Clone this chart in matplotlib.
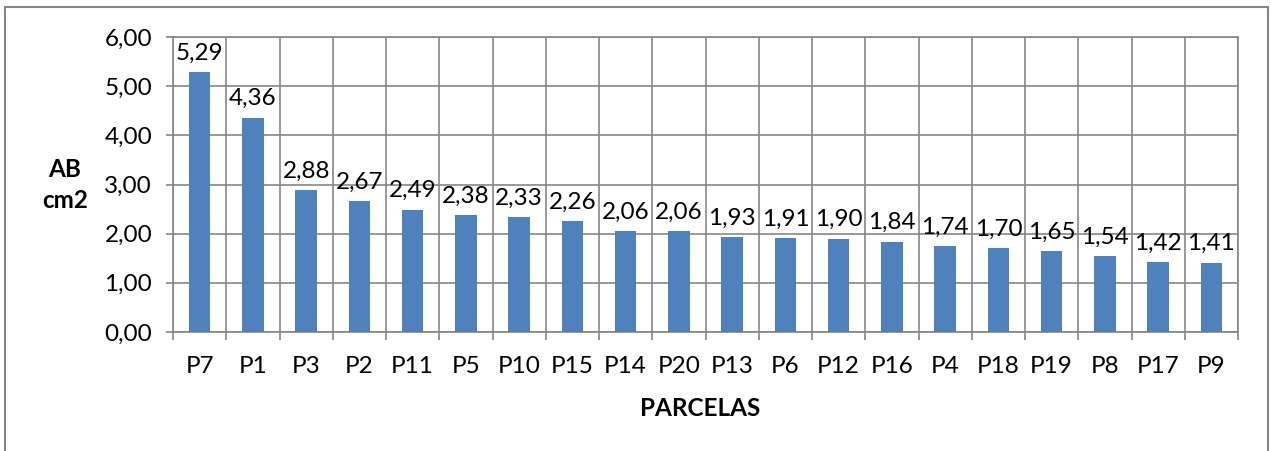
import matplotlib.pyplot as plt
from matplotlib.patches import Rectangle
import numpy as np

parcelas = ["P7", "P1", "P3", "P2", "P11", "P5", "P10", "P15", "P14", "P20",
            "P13", "P6", "P12", "P16", "P4", "P18", "P19", "P8", "P17", "P9"]
ab_cm2 = [5.29, 4.36, 2.88, 2.67, 2.49, 2.38, 2.33, 2.26, 2.06, 2.06,
          1.93, 1.91, 1.90, 1.84, 1.74, 1.70, 1.65, 1.54, 1.42, 1.41]
y_ticks = [0, 1, 2, 3, 4, 5, 6]

plt.rcParams['font.family'] = ['Lato', 'DejaVu Sans']
grid_col = "#868686"
fs = 17.5

fig = plt.figure(figsize=(12.71, 4.51), dpi=100)
ax = fig.add_axes([173 / 1271, 1 - 332 / 451, (1238 - 173) / 1271, (332 - 37) / 451])

x = np.arange(len(parcelas))
ax.bar(x, ab_cm2, width=0.4, color="#4F81BD", zorder=3)

for xi, v in zip(x, ab_cm2):
    ax.annotate(f"{v:.2f}".replace(".", ","), (xi, v), xytext=(0, 6),
                textcoords="offset points", ha="center", va="bottom",
                fontsize=fs, zorder=4)

ax.set_xlim(-0.5, len(parcelas) - 0.5)
ax.set_ylim(0, 6)
ax.set_yticks(y_ticks)
ax.set_yticklabels([f"{t:.2f}".replace(".", ",") for t in y_ticks], fontsize=fs)
ax.set_xticks(x)
ax.set_xticklabels(parcelas, fontsize=fs)
ax.set_xticks(np.arange(-0.5, len(parcelas)), minor=True)

ax.tick_params(axis="x", which="major", length=0, pad=17)
ax.tick_params(axis="x", which="minor", length=6, width=1.2, color=grid_col, direction="out")
ax.tick_params(axis="y", length=5, width=1.2, color=grid_col, pad=10)

ax.grid(axis="y", which="major", color=grid_col, linewidth=1.2, zorder=0)
ax.grid(axis="x", which="minor", color=grid_col, linewidth=1.2, zorder=0)
ax.set_axisbelow(True)
for s in ax.spines.values():
    s.set_color(grid_col)
    s.set_linewidth(1.2)

fig.text(700 / 1271, 1 - 409 / 451, "PARCELAS", ha="center", va="center",
         fontsize=fs, fontweight="bold")
fig.text(65 / 1271, 1 - 185 / 451, "AB\ncm2", ha="center", va="center",
         fontsize=fs, fontweight="bold", linespacing=1.4)

fig.patches.append(Rectangle((5 / 1271, -0.1), 1263 / 1271, 0.1 + (451 - 7) / 451,
                             transform=fig.transFigure, fill=False,
                             edgecolor=grid_col, linewidth=1.5))

fig.savefig("out.png", dpi=100)
